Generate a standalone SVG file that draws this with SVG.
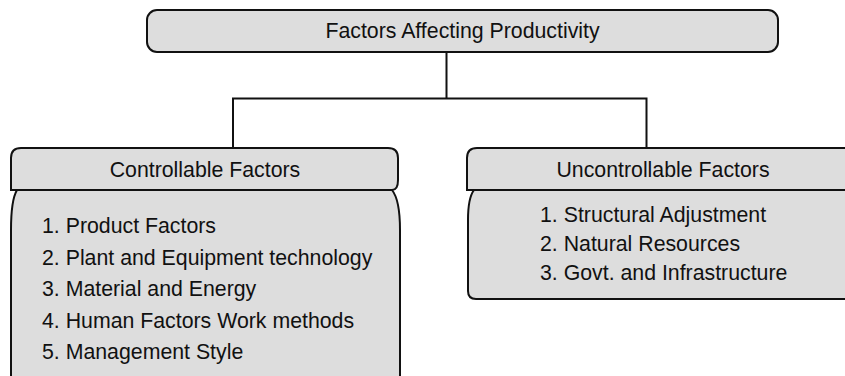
<svg xmlns="http://www.w3.org/2000/svg" width="845" height="376" viewBox="0 0 845 376">
<style>
.box{fill:#dddddd;stroke:#111;stroke-width:2}
.conn{fill:none;stroke:#111;stroke-width:2}
text{font-family:"Liberation Sans",Arial,sans-serif;font-size:21.3px;fill:#111}
.c{text-anchor:middle}
</style>
<rect width="845" height="376" fill="#fff"/>
<g id="connectors">
<path class="conn" d="M446.5,52 V98.5 M233,148 V98.5 H646.5 V148"/>
</g>
<g id="root">
<rect class="box" x="147" y="10" width="631" height="42" rx="10"/>
<text class="c" x="462.5" y="38">Factors Affecting Productivity</text>
</g>
<g id="controllable">
<path class="box" d="M11,190 V158 Q11,148 21,148 H388 Q398,148 398,158 V180 Q398,190 392,190 Z"/>
<path class="box" d="M17,190 Q11,200 11,230 V390 H400 V230 Q400,200 392,190 Z"/>
<text class="c" x="205" y="177">Controllable Factors</text>
<text x="42" y="233">1. Product Factors</text>
<text x="42" y="264.5">2. Plant and Equipment technology</text>
<text x="42" y="296">3. Material and Energy</text>
<text x="42" y="327.5">4. Human Factors Work methods</text>
<text x="42" y="359">5. Management Style</text>
</g>
<g id="uncontrollable">
<path class="box" d="M467,190 V158 Q467,148 477,148 H870 V190 Z"/>
<path class="box" d="M474,190 Q468,198 468,220 V291 Q468,299 476,299 H870 V190 Z"/>
<text class="c" x="663" y="177">Uncontrollable Factors</text>
<text x="540" y="222">1. Structural Adjustment</text>
<text x="540" y="251">2. Natural Resources</text>
<text x="540" y="280">3. Govt. and Infrastructure</text>
</g>
</svg>
